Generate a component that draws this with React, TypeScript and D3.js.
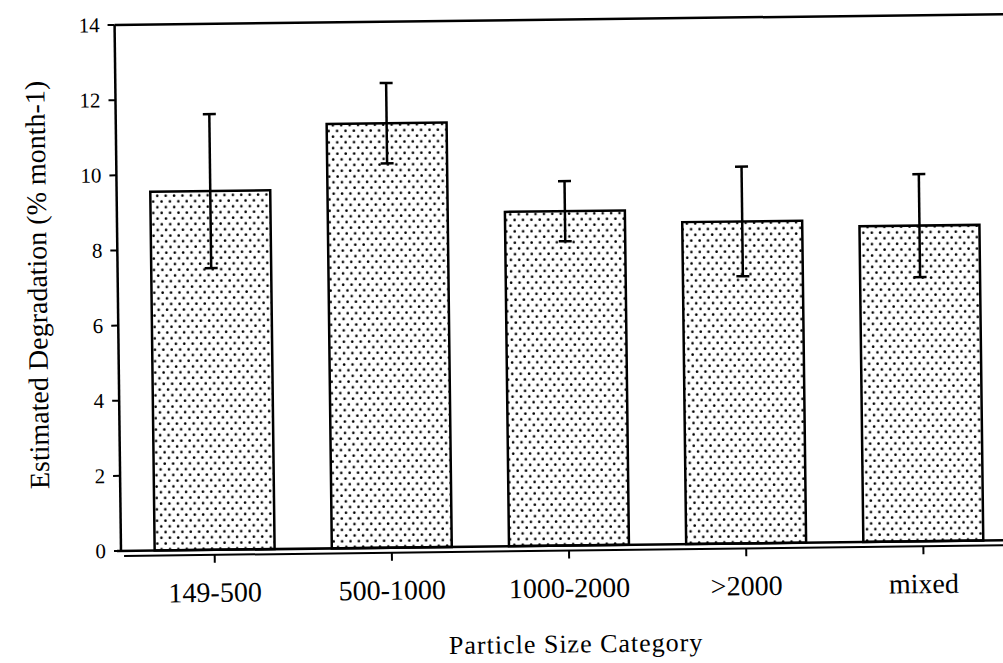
import * as d3 from "d3";

// particle size categories (µm) and estimated degradation
const categories = ["149-500", "500-1000", "1000-2000", ">2000", "mixed"];
const means = [9.55, 11.3, 8.9, 8.57, 8.4];
const errors = [2.05, 1.07, 0.8, 1.46, 1.37];
const yTicks = [0, 2, 4, 6, 8, 10, 12, 14];

const W = 1003;
const H = 663;
const FONT = "'Liberation Serif', 'DejaVu Serif', serif";

// the scan is a little rotated, so draw in a tilted frame
const ox = 121;
const oy = 551;
const tilt = -0.7;

const App = () => {
  const x = d3
    .scaleBand<string>()
    .domain(categories)
    .range([ox, 1017])
    .paddingInner(0.323)
    .paddingOuter(0.19);
  const y = d3.scaleLinear().domain([0, 14]).range([oy, 25]);
  const bw = x.bandwidth();

  return (
    <svg
      width={W}
      height={H}
      style={{ position: "absolute", left: 0, top: 0, background: "#fff" }}
    >
      <defs>
        <pattern id="dots" width={8.4} height={11.4} patternUnits="userSpaceOnUse">
          <rect width={8.4} height={11.4} fill="#fff" />
          <circle cx={2} cy={2.5} r={1.3} fill="#000" />
          <circle cx={6.2} cy={8.2} r={1.3} fill="#000" />
        </pattern>
      </defs>
      <g transform={`rotate(${tilt}, ${ox}, ${oy})`} fontFamily={FONT} fill="#000">
        {/* bars */}
        {categories.map((c, i) => (
          <rect
            key={c}
            x={x(c)}
            y={y(means[i])}
            width={bw}
            height={y(0) - y(means[i])}
            fill="url(#dots)"
            stroke="#000"
            strokeWidth={2.5}
          />
        ))}

        {/* error bars */}
        {categories.map((c, i) => {
          const cx = (x(c) as number) + bw / 2;
          const hi = y(means[i] + errors[i]);
          const lo = y(means[i] - errors[i]);
          return (
            <g key={c} stroke="#000" strokeWidth={2.5}>
              <line x1={cx} x2={cx} y1={hi} y2={lo} />
              <line x1={cx - 6.5} x2={cx + 6.5} y1={hi} y2={hi} />
              <line x1={cx - 6.5} x2={cx + 6.5} y1={lo} y2={lo} />
            </g>
          );
        })}

        {/* frame */}
        <g stroke="#000" strokeWidth={2.5} fill="none">
          <line x1={ox} x2={ox} y1={y(14)} y2={y(0)} />
          <line x1={ox} x2={1030} y1={y(14)} y2={y(14)} />
          <line x1={ox - 4} x2={1030} y1={y(0)} y2={y(0)} />
          <line x1={ox + 3} x2={1030} y1={y(0) + 5} y2={y(0) + 5} strokeWidth={2} />
        </g>

        {/* y axis */}
        {yTicks.map((t) => (
          <g key={t}>
            <line x1={ox - 7} x2={ox} y1={y(t)} y2={y(t)} stroke="#000" strokeWidth={2} />
            <text
              x={ox - 15}
              y={y(t)}
              textAnchor="end"
              dominantBaseline="central"
              fontSize={21}
            >
              {t}
            </text>
          </g>
        ))}

        {/* x axis */}
        {categories.map((c) => {
          const cx = (x(c) as number) + bw / 2;
          return (
            <g key={c}>
              <line
                x1={cx}
                x2={cx}
                y1={y(0) + 5}
                y2={y(0) + 13}
                stroke="#000"
                strokeWidth={2}
              />
              <text x={cx} y={603} textAnchor="middle" fontSize={28}>
                {c}
              </text>
            </g>
          );
        })}

        <text
          x={575}
          y={658}
          textAnchor="middle"
          fontSize={26}
          letterSpacing={1}
        >
          Particle Size Category
        </text>
        <text
          transform={`translate(50, 284) rotate(-90)`}
          textAnchor="middle"
          fontSize={28}
        >
          Estimated Degradation (% month-1)
        </text>
      </g>
    </svg>
  );
};

export default App;
